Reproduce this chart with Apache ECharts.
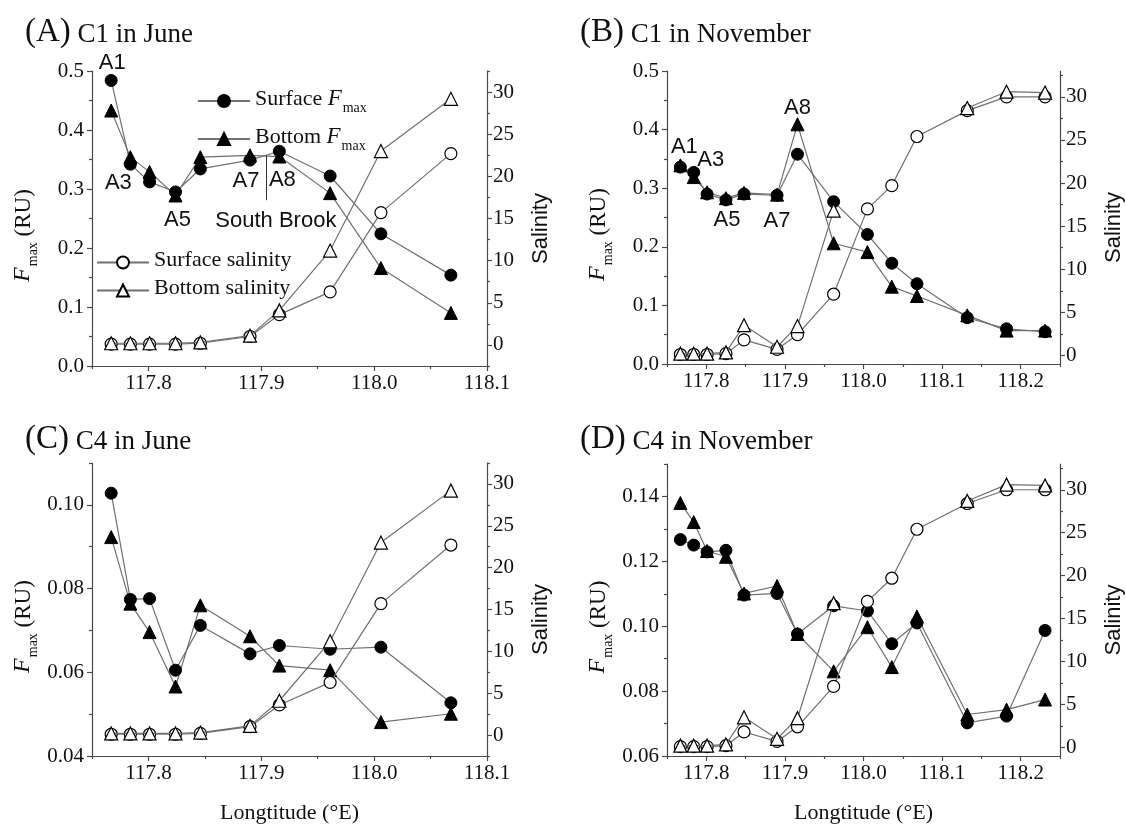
<!DOCTYPE html>
<html>
<head>
<meta charset="utf-8">
<script src="https://cdn.jsdelivr.net/npm/echarts@6/dist/echarts.min.js"></script>
<style>
  html, body { margin: 0; padding: 0; background: #ffffff; }
  #chart { width: 1126px; height: 825px; }
</style>
</head>
<body>
<div id="chart"></div>
<script>
// ---- Station longitudes (°E) ----
const lonJune = [117.767, 117.784, 117.801, 117.824, 117.846, 117.890, 117.916, 117.961, 118.006, 118.068];
const lonNov  = [117.767, 117.784, 117.801, 117.825, 117.848, 117.890, 117.916, 117.962, 118.005, 118.036, 118.068, 118.132, 118.182, 118.231];

// ---- C1 in June ----
const surfFmaxC1Jun = [0.484, 0.342, 0.312, 0.295, 0.334, 0.349, 0.364, 0.322, 0.224, 0.154];
const botFmaxC1Jun  = [0.433, 0.354, 0.329, 0.289, 0.354, 0.357, 0.355, 0.293, 0.166, 0.090];

// ---- C4 in June ----
const surfFmaxC4Jun = [0.1028, 0.0774, 0.0776, 0.0605, 0.0712, 0.0644, 0.0664, 0.0655, 0.0660, 0.0527];
const botFmaxC4Jun  = [0.0923, 0.0764, 0.0696, 0.0566, 0.0760, 0.0686, 0.0616, 0.0605, 0.0481, 0.0501];

// ---- Salinity along the transect, June ----
const surfSalJun = [0.1, 0.1, 0.1, 0.1, 0.2, 1.0, 3.6, 6.3, 15.7, 22.7];
const botSalJun  = [0.2, 0.2, 0.2, 0.2, 0.3, 1.1, 4.1, 11.2, 23.0, 29.2];

// ---- C1 in November ----
const surfFmaxC1Nov = [0.336, 0.327, 0.290, 0.280, 0.290, 0.288, 0.358, 0.277, 0.221, 0.172, 0.137, 0.079, 0.060, 0.055];
const botFmaxC1Nov  = [0.339, 0.319, 0.293, 0.283, 0.292, 0.289, 0.409, 0.206, 0.191, 0.132, 0.116, 0.083, 0.057, 0.057];

// ---- C4 in November ----
const surfFmaxC4Nov = [0.1267, 0.1250, 0.1229, 0.1234, 0.1096, 0.1101, 0.0976, 0.1063, 0.1047, 0.0946, 0.1010, 0.0702, 0.0723, 0.0987];
const botFmaxC4Nov  = [0.1380, 0.1321, 0.1232, 0.1214, 0.1101, 0.1124, 0.0976, 0.0861, 0.0997, 0.0874, 0.1030, 0.0728, 0.0743, 0.0774];

// ---- Salinity along the transect, November (no bottom samples at three stations) ----
const surfSalNov = [0.1, 0.1, 0.1, 0.2, 1.8, 0.7, 2.4, 7.1, 17.0, 19.7, 25.4, 28.4, 30.0, 30.0];
const botSalNov  = [0.2, 0.2, 0.2, 0.35, 3.5, 1.0, 3.4, 16.8, null, null, null, 28.7, 30.6, 30.5];

// ---- Station tags ----
const tagsJune = ['A1', 'A3', '', 'A5', '', 'A7', 'A8', '', '', ''];
const tagsNov  = ['A1', 'A3', '', 'A5', '', 'A7', 'A8', '', '', '', '', '', '', ''];

// ---- Axis ticks ----
const lonTicksJune      = [117.8, 117.9, 118.0, 118.1];
const lonMinorJune      = [117.75, 117.85, 117.95, 118.05];
const lonTicksNov       = [117.8, 117.9, 118.0, 118.1, 118.2];
const lonMinorNov       = [117.75, 117.85, 117.95, 118.05, 118.15, 118.25];
const fmaxTicksC1       = [0.0, 0.1, 0.2, 0.3, 0.4, 0.5];
const fmaxMinorC1       = [0.05, 0.15, 0.25, 0.35, 0.45];
const fmaxTicksC4Jun    = [0.04, 0.06, 0.08, 0.10];
const fmaxMinorC4Jun    = [0.05, 0.07, 0.09, 0.11];
const fmaxTicksC4Nov    = [0.06, 0.08, 0.10, 0.12, 0.14];
const fmaxMinorC4Nov    = [0.07, 0.09, 0.11, 0.13, 0.15];
const salTicks          = [0, 5, 10, 15, 20, 25, 30];
const salMinorJune      = [-2.5, 2.5, 7.5, 12.5, 17.5, 22.5, 27.5, 32.5];
const salMinorNov       = [2.5, 7.5, 12.5, 17.5, 22.5, 27.5, 32.5];

const SERIF = '"Liberation Serif", "Times New Roman", serif';
const SANS = '"Liberation Sans", Arial, sans-serif';
const INK = '#111';
const AXIS = '#4a4a4a';
const LINK = '#707070';

const panels = [
  { tag: '(A)', title: 'C1 in June', lon: lonJune, surfF: surfFmaxC1Jun, botF: botFmaxC1Jun,
    surfS: surfSalJun, botS: botSalJun, tags: tagsJune,
    x: [117.75, 118.1], xTicks: lonTicksJune, xMinor: lonMinorJune,
    f: [0, 0.5], fTicks: fmaxTicksC1, fMinor: fmaxMinorC1, fDigits: 1,
    s: [-2.5, 32.5], sMinor: salMinorJune,
    grid: { left: 92, top: 71, width: 395, height: 295 }, head: { left: 20, top: 11 }, xName: false },
  { tag: '(B)', title: 'C1 in November', lon: lonNov, surfF: surfFmaxC1Nov, botF: botFmaxC1Nov,
    surfS: surfSalNov, botS: botSalNov, tags: tagsNov,
    x: [117.75, 118.25], xTicks: lonTicksNov, xMinor: lonMinorNov,
    f: [0, 0.5], fTicks: fmaxTicksC1, fMinor: fmaxMinorC1, fDigits: 1,
    s: [-1, 33], sMinor: salMinorNov,
    grid: { left: 667, top: 71, width: 394, height: 293 }, head: { left: 575, top: 11 }, xName: false },
  { tag: '(C)', title: 'C4 in June', lon: lonJune, surfF: surfFmaxC4Jun, botF: botFmaxC4Jun,
    surfS: surfSalJun, botS: botSalJun, tags: null,
    x: [117.75, 118.1], xTicks: lonTicksJune, xMinor: lonMinorJune,
    f: [0.04, 0.11], fTicks: fmaxTicksC4Jun, fMinor: fmaxMinorC4Jun, fDigits: 2,
    s: [-2.5, 32.5], sMinor: salMinorJune,
    grid: { left: 92, top: 463, width: 395, height: 293 }, head: { left: 20, top: 418 }, xName: true },
  { tag: '(D)', title: 'C4 in November', lon: lonNov, surfF: surfFmaxC4Nov, botF: botFmaxC4Nov,
    surfS: surfSalNov, botS: botSalNov, tags: null,
    x: [117.75, 118.25], xTicks: lonTicksNov, xMinor: lonMinorNov,
    f: [0.06, 0.15], fTicks: fmaxTicksC4Nov, fMinor: fmaxMinorC4Nov, fDigits: 2,
    s: [-1, 33], sMinor: salMinorNov,
    grid: { left: 667, top: 464, width: 394, height: 293 }, head: { left: 575, top: 418 }, xName: true }
];

// Where each station tag sits relative to its marker, per panel
const tagPlacement = [
  { A1: { on: 'surf', position: 'top', offset: [1, 5] },
    A3: { on: 'surf', position: 'bottom', offset: [-12, -4] },
    A5: { on: 'surf', position: 'bottom', offset: [2, 5] },
    A7: { on: 'surf', position: 'bottom', offset: [-4, -2] },
    A8: { on: 'surf', position: 'bottom', offset: [3, 6] } },
  { A1: { on: 'surf', position: 'top', offset: [4, 2] },
    A3: { on: 'surf', position: 'top', offset: [17, 10] },
    A5: { on: 'surf', position: 'bottom', offset: [1, -2] },
    A7: { on: 'surf', position: 'bottom', offset: [0, 3] },
    A8: { on: 'bot', position: 'top', offset: [0, 7] } }
];

const richF = {
  n: { fontFamily: SERIF, fontSize: 23, color: INK, verticalAlign: 'bottom', padding: [0, 0, 5, 0] },
  i: { fontFamily: SERIF, fontSize: 24, fontStyle: 'italic', color: INK, verticalAlign: 'bottom', padding: [0, 0, 5, 0] },
  s: { fontFamily: SERIF, fontSize: 14, color: INK, verticalAlign: 'bottom', padding: [0, 0, 0, 1] }
};
const richLegend = {
  n: { fontFamily: SERIF, fontSize: 22, color: INK, verticalAlign: 'bottom', padding: [0, 0, 5, 0] },
  i: { fontFamily: SERIF, fontSize: 23, fontStyle: 'italic', color: INK, verticalAlign: 'bottom', padding: [0, 0, 5, 0] },
  s: { fontFamily: SERIF, fontSize: 14, color: INK, verticalAlign: 'bottom', padding: [0, 0, 0, 1] }
};

const tickLabel = { fontFamily: SERIF, fontSize: 21, color: INK };
const fmt = d => v => Number(v).toFixed(d);

const xAxes = [], yAxes = [], series = [], titles = [];

panels.forEach((p, k) => {
  const xMain = {
    type: 'value', gridIndex: k, min: p.x[0], max: p.x[1], position: 'bottom',
    axisLine: { show: true, onZero: false, lineStyle: { color: AXIS, width: 1.2 } },
    axisTick: { show: true, length: 5, customValues: p.xTicks, lineStyle: { color: AXIS, width: 1.2 } },
    axisLabel: Object.assign({ customValues: p.xTicks, formatter: fmt(1), margin: 7 }, tickLabel),
    splitLine: { show: false }
  };
  if (p.xName) {
    Object.assign(xMain, {
      name: 'Longtitude (°E)', nameLocation: 'middle', nameGap: 46,
      nameTextStyle: { fontFamily: SERIF, fontSize: 22, color: INK }
    });
  }
  xAxes.push(xMain, {
    type: 'value', gridIndex: k, min: p.x[0], max: p.x[1], position: 'bottom',
    axisLine: { show: false, onZero: false },
    axisTick: { show: true, length: 3, customValues: p.xMinor, lineStyle: { color: AXIS, width: 1.2 } },
    axisLabel: { show: false }, splitLine: { show: false }
  });

  yAxes.push(
    {
      type: 'value', gridIndex: k, min: p.f[0], max: p.f[1], position: 'left',
      axisLine: { show: true, onZero: false, lineStyle: { color: AXIS, width: 1.2 } },
      axisTick: { show: true, length: 5, customValues: p.fTicks, lineStyle: { color: AXIS, width: 1.2 } },
      axisLabel: Object.assign({ customValues: p.fTicks, formatter: fmt(p.fDigits), margin: 8 }, tickLabel),
      splitLine: { show: false },
      name: '{i|F}{s|max}{n| (RU)}', nameLocation: 'middle', nameRotate: 90, nameGap: 52,
      nameTextStyle: { rich: richF, padding: [0, 34, 0, 0] }
    },
    {
      type: 'value', gridIndex: k, min: p.f[0], max: p.f[1], position: 'left',
      axisLine: { show: false, onZero: false },
      axisTick: { show: true, length: 3, customValues: p.fMinor, lineStyle: { color: AXIS, width: 1.2 } },
      axisLabel: { show: false }, splitLine: { show: false }
    },
    {
      type: 'value', gridIndex: k, min: p.s[0], max: p.s[1], position: 'right',
      axisLine: { show: true, onZero: false, lineStyle: { color: AXIS, width: 1.2 } },
      axisTick: { show: true, length: 5, customValues: salTicks, lineStyle: { color: AXIS, width: 1.2 } },
      axisLabel: Object.assign({ customValues: salTicks, formatter: fmt(0), margin: 6 }, tickLabel),
      splitLine: { show: false },
      name: 'Salinity', nameLocation: 'middle', nameRotate: 90, nameGap: 43,
      nameTextStyle: { fontFamily: SANS, fontSize: 22, color: INK, padding: [0, 20, 0, 0] }
    },
    {
      type: 'value', gridIndex: k, min: p.s[0], max: p.s[1], position: 'right',
      axisLine: { show: false, onZero: false },
      axisTick: { show: true, length: 3, customValues: p.sMinor, lineStyle: { color: AXIS, width: 1.2 } },
      axisLabel: { show: false }, splitLine: { show: false }
    }
  );

  titles.push({
    text: '{p|' + p.tag + '}{t| ' + p.title + '}', left: p.head.left, top: p.head.top,
    textStyle: { fontWeight: 'normal', rich: {
      p: { fontFamily: SERIF, fontSize: 33, fontWeight: 'normal', color: INK, verticalAlign: 'bottom' },
      t: { fontFamily: SERIF, fontSize: 27, fontWeight: 'normal', color: INK, verticalAlign: 'bottom', padding: [0, 0, 1, 0] }
    } }
  });

  const place = tagPlacement[k] || {};
  const points = (ys, key) => p.lon.map((x, j) => {
    const item = { value: [x, ys[j]] };
    const t = p.tags ? p.tags[j] : '';
    if (t && place[t] && place[t].on === key) {
      item.label = {
        show: true, formatter: t, position: place[t].position, offset: place[t].offset,
        distance: 5, fontFamily: SANS, fontSize: 22, color: INK
      };
    }
    return item;
  });

  const base = {
    type: 'line', xAxisIndex: 2 * k, showAllSymbol: true, connectNulls: false,
    lineStyle: { color: LINK, width: 1.2 }, animation: false, emphasis: { disabled: true }
  };
  const filled = { color: '#000', borderColor: '#000', borderWidth: 1 };
  const open = { color: '#fff', borderColor: '#000', borderWidth: 1.2 };

  const surfF = Object.assign({}, base, {
    name: 'Surface Fmax', yAxisIndex: 4 * k, symbol: 'circle', symbolSize: 12,
    itemStyle: filled, data: points(p.surfF, 'surf'), z: 3
  });
  const botF = Object.assign({}, base, {
    name: 'Bottom Fmax', yAxisIndex: 4 * k, symbol: 'triangle', symbolSize: 13,
    itemStyle: filled, data: points(p.botF, 'bot'), z: 3
  });
  if (k === 0) {
    // Arrow pointing at the South Brook confluence
    botF.markLine = {
      silent: true, animation: false, symbol: ['none', 'arrow'], symbolSize: [0, 9],
      lineStyle: { color: '#333', width: 1, type: 'solid' },
      label: { show: true, position: 'start', formatter: 'South Brook', distance: 10,
               padding: [0, 0, 0, 19], fontFamily: SANS, fontSize: 22, color: INK },
      data: [[{ coord: [117.9045, 0.281] }, { coord: [117.9045, 0.356] }]]
    };
  }
  const surfS = Object.assign({}, base, {
    name: 'Surface salinity', yAxisIndex: 4 * k + 2, symbol: 'circle', symbolSize: 12,
    itemStyle: open, data: points(p.surfS, 'sal'), z: 4
  });
  const botS = Object.assign({}, base, {
    name: 'Bottom salinity', yAxisIndex: 4 * k + 2, symbol: 'triangle', symbolSize: 13,
    itemStyle: open, data: points(p.botS, 'sal'), z: 5
  });
  series.push(surfF, botF, surfS, botS);
});

const legendText = name => name
  .replace('Surface ', '{n|Surface }').replace('Bottom ', '{n|Bottom }')
  .replace('Fmax', '{i|F}{s|max}')
  .replace('salinity', '{n|salinity}');

const legendBase = {
  orient: 'vertical', selectedMode: false, itemWidth: 52, itemHeight: 15, padding: 0,
  formatter: legendText, textStyle: { rich: richLegend, fontFamily: SERIF, fontSize: 22, color: INK }
};

const option = {
  backgroundColor: '#ffffff',
  animation: false,
  title: titles,
  grid: panels.map(p => Object.assign({ containLabel: false }, p.grid)),
  xAxis: xAxes,
  yAxis: yAxes,
  legend: [
    Object.assign({}, legendBase, { data: ['Surface Fmax', 'Bottom Fmax'], left: 197, top: 87, itemGap: 10 }),
    Object.assign({}, legendBase, { data: ['Surface salinity', 'Bottom salinity'], left: 96, top: 249, itemGap: 6 })
  ],
  series: series
};

const chart = echarts.init(document.getElementById('chart'), null, { renderer: 'canvas' });
chart.setOption(option);
</script>
</body>
</html>
